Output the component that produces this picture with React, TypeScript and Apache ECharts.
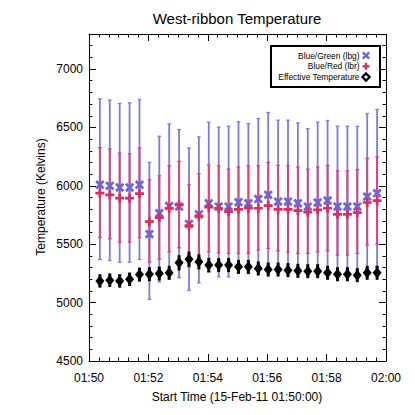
import React, { useEffect, useRef } from "react";
import * as echarts from "echarts";

// Observation times (start 15-Feb-11 01:50:00)
const times = [
  "01:50:22", "01:50:42", "01:51:02", "01:51:22", "01:51:42", "01:52:02", "01:52:22", "01:52:42",
  "01:53:02", "01:53:22", "01:53:42", "01:54:02", "01:54:22", "01:54:42", "01:55:02", "01:55:22",
  "01:55:42", "01:56:02", "01:56:22", "01:56:42", "01:57:02", "01:57:22", "01:57:42", "01:58:02",
  "01:58:22", "01:58:42", "01:59:02", "01:59:22", "01:59:42",
];

// Blue/Green (lbg) temperature and error-bar limits
const lbg = [6009, 6000, 5986, 5986, 6009, 5587, 5765, 5828, 5822, 5673, 5756, 5851, 5822, 5822, 5860,
  5851, 5888, 5923, 5865, 5865, 5851, 5822, 5857, 5874, 5822, 5822, 5822, 5908, 5937];
const lbgHigh = [6745, 6734, 6705, 6711, 6740, 6201, 6424, 6530, 6482, 6324, 6419, 6545, 6502, 6510, 6548,
  6533, 6576, 6628, 6562, 6562, 6539, 6490, 6545, 6559, 6510, 6510, 6510, 6619, 6654];
const lbgLow = [5369, 5361, 5346, 5346, 5369, 5028, 5177, 5209, 5214, 5105, 5169, 5263, 5220, 5220, 5255,
  5249, 5278, 5286, 5255, 5255, 5249, 5235, 5249, 5263, 5220, 5220, 5220, 5292, 5306];

// Blue/Red (lbr) temperature and error-bar limits
const lbr = [5937, 5923, 5894, 5894, 5934, 5693, 5728, 5808, 5837, 5659, 5742, 5817, 5808, 5779, 5799,
  5808, 5808, 5831, 5799, 5799, 5788, 5774, 5794, 5808, 5756, 5756, 5771, 5857, 5874];
const lbrHigh = [6327, 6315, 6281, 6275, 6324, 6052, 6086, 6172, 6209, 6009, 6103, 6178, 6172, 6143, 6161,
  6172, 6172, 6201, 6175, 6172, 6161, 6143, 6161, 6175, 6129, 6129, 6138, 6235, 6247];
const lbrLow = [5558, 5547, 5518, 5518, 5556, 5346, 5372, 5435, 5470, 5306, 5384, 5435, 5427, 5421, 5421,
  5421, 5450, 5464, 5444, 5435, 5421, 5421, 5435, 5444, 5407, 5407, 5421, 5493, 5501];

// Effective temperature and its error
const teff = [5186, 5192, 5186, 5200, 5240, 5243, 5249, 5255, 5341, 5372, 5349, 5321, 5321, 5321, 5306,
  5306, 5292, 5283, 5283, 5278, 5272, 5269, 5269, 5255, 5243, 5243, 5235, 5255, 5255];
const teffErr = [58, 58, 58, 58, 60, 60, 60, 60, 65, 65, 65, 62, 60, 60, 60,
  60, 60, 60, 60, 60, 60, 60, 60, 60, 60, 60, 60, 60, 60];

// Axis ticks
const yTicks = [4500, 5000, 5500, 6000, 6500, 7000];
const xTickLabels = ["01:50", "01:52", "01:54", "01:56", "01:58", "02:00"];

const TITLE = "West-ribbon Temperature";
const X_TITLE = "Start Time (15-Feb-11 01:50:00)";
const Y_TITLE = "Temperature (Kelvins)";
const LEGEND_NAMES = ["Blue/Green (lbg)", "Blue/Red (lbr)", "Effective Temperature"];

const FONT = "'Liberation Sans', Arial, Helvetica, sans-serif";
const BLUE = "#6a66d8";
const BLUE_BAR = "#7c7ce0";
const RED = "#d52f66";
const RED_BAR = "#d3477a";

const toSec = (t: string) => {
  const [h, m, s] = t.split(":").map(Number);
  return (h * 3600 + m * 60 + s) - (1 * 3600 + 50 * 60);
};
const xs = times.map(toSec);

const PLUS = "path://M3.5,0 H6.5 V3.5 H10 V6.5 H6.5 V10 H3.5 V6.5 H0 V3.5 H3.5 Z";
const XMARK = "path://M3.7,0 H6.3 V3.7 H10 V6.3 H6.3 V10 H3.7 V6.3 H0 V3.7 H3.7 Z";

function errBars(color: string, width: number, cap: number) {
  return (params: any, api: any) => {
    const x = api.value(0);
    const lo = api.coord([x, api.value(1)]);
    const hi = api.coord([x, api.value(2)]);
    const children: any[] = [
      { type: "line", shape: { x1: lo[0], y1: lo[1], x2: hi[0], y2: hi[1] }, style: { stroke: color, lineWidth: width } },
    ];
    if (cap > 0) {
      children.push(
        { type: "line", shape: { x1: lo[0] - cap, y1: lo[1], x2: lo[0] + cap, y2: lo[1] }, style: { stroke: color, lineWidth: 1.3 } },
        { type: "line", shape: { x1: hi[0] - cap, y1: hi[1], x2: hi[0] + cap, y2: hi[1] }, style: { stroke: color, lineWidth: 1.3 } },
      );
    }
    return { type: "group", children };
  };
}

const fmtX = (v: number) => {
  const idx = Math.round(v / 120);
  return xTickLabels[idx] ?? "";
};

export default function App() {
  const ref = useRef<HTMLDivElement>(null);
  useEffect(() => {
    if (!ref.current) return;
    const chart = echarts.init(ref.current, undefined, { renderer: "svg" });
    const axisLine = { onZero: false, lineStyle: { color: "#000", width: 1 } };
    const tick = { inside: true, length: 7, lineStyle: { color: "#000", width: 1 } };
    const lbl = { color: "#000", fontSize: 12, fontFamily: FONT };
    const legX = 366;
    const rows = [55.5, 66.3, 77];
    const option: any = {
      animation: false,
      backgroundColor: "#fff",
      grid: { left: 89, right: 29, top: 34, bottom: 54, containLabel: false },
      xAxis: [
        {
          type: "value", min: 0, max: 600, interval: 120, position: "bottom",
          axisLine, axisTick: tick, minorTick: { show: true, splitNumber: 6, length: 3.5, lineStyle: { color: "#000" } },
          axisLabel: { ...lbl, margin: 11, formatter: fmtX }, splitLine: { show: false },
        },
        {
          type: "value", min: 0, max: 600, interval: 120, position: "top",
          axisLine, axisTick: tick, minorTick: { show: true, splitNumber: 6, length: 3.5, lineStyle: { color: "#000" } },
          axisLabel: { show: false }, splitLine: { show: false },
        },
      ],
      yAxis: [
        {
          type: "value", min: yTicks[0], max: 7300, interval: 500, position: "left",
          axisLine, axisTick: tick, minorTick: { show: true, splitNumber: 5, length: 3.5, lineStyle: { color: "#000" } },
          axisLabel: { ...lbl, margin: 6, showMaxLabel: false, formatter: (v: number) => (yTicks.includes(v) ? String(v) : "") },
          splitLine: { show: false },
        },
        {
          type: "value", min: yTicks[0], max: 7300, interval: 500, position: "right",
          axisLine, axisTick: tick, minorTick: { show: true, splitNumber: 5, length: 3.5, lineStyle: { color: "#000" } },
          axisLabel: { show: false }, splitLine: { show: false },
        },
      ],
      series: [
        {
          type: "custom", name: "lbgErr", renderItem: errBars(BLUE_BAR, 1.8, 1.8),
          data: xs.map((x, i) => [x, lbgLow[i], lbgHigh[i]]), encode: { x: 0, y: [1, 2] }, silent: true,
        },
        {
          type: "custom", name: "lbrErr", renderItem: errBars(RED_BAR, 2, 1.8),
          data: xs.map((x, i) => [x, lbrLow[i], lbrHigh[i]]), encode: { x: 0, y: [1, 2] }, silent: true,
        },
        {
          type: "scatter", name: LEGEND_NAMES[0], symbol: XMARK, symbolSize: 10.5, symbolRotate: 45,
          itemStyle: { color: BLUE, opacity: 1 }, data: xs.map((x, i) => [x, lbg[i]]), silent: true,
        },
        {
          type: "scatter", name: LEGEND_NAMES[1], symbol: PLUS, symbolSize: 9,
          itemStyle: { color: RED, opacity: 1 }, data: xs.map((x, i) => [x, lbr[i]]), silent: true,
        },
        {
          type: "custom", name: "teffErr", renderItem: errBars("#000", 3, 0),
          data: xs.map((x, i) => [x, teff[i] - teffErr[i], teff[i] + teffErr[i]]), encode: { x: 0, y: [1, 2] }, silent: true,
        },
        {
          type: "scatter", name: LEGEND_NAMES[2], symbol: "diamond", symbolSize: [9, 11],
          itemStyle: { color: "#000", opacity: 1 }, data: xs.map((x, i) => [x, teff[i]]), silent: true,
        },
      ],
      graphic: [
        {
          type: "text", x: 237, y: 18,
          style: { text: TITLE, fill: "#000", font: `15px ${FONT}`, align: "center", verticalAlign: "middle", textAlign: "center", textVerticalAlign: "middle" },
        },
        {
          type: "text", x: 237, y: 397,
          style: { text: X_TITLE, fill: "#000", font: `12px ${FONT}`, align: "center", verticalAlign: "middle", textAlign: "center", textVerticalAlign: "middle" },
        },
        {
          type: "text", x: 41, y: 197, rotation: Math.PI / 2,
          style: { text: Y_TITLE, fill: "#000", font: `12px ${FONT}`, align: "center", verticalAlign: "middle", textAlign: "center", textVerticalAlign: "middle" },
        },
        {
          type: "rect", shape: { x: 271, y: 46, width: 109, height: 41 },
          style: { fill: "#fff", stroke: "#000", lineWidth: 2 }, z: 10,
        },
        ...LEGEND_NAMES.map((n, i) => ({
          type: "text", x: 359.5, y: rows[i], z: 11,
          style: { text: n, fill: "#000", font: `8.4px ${FONT}`, align: "right", verticalAlign: "middle", textAlign: "right", textVerticalAlign: "middle" },
        })),
        // legend symbols
        { type: "line", z: 11, shape: { x1: legX - 3.2, y1: rows[0] - 3.2, x2: legX + 3.2, y2: rows[0] + 3.2 }, style: { stroke: BLUE, lineWidth: 2.4 } },
        { type: "line", z: 11, shape: { x1: legX - 3.2, y1: rows[0] + 3.2, x2: legX + 3.2, y2: rows[0] - 3.2 }, style: { stroke: BLUE, lineWidth: 2.4 } },
        { type: "line", z: 11, shape: { x1: legX - 3.5, y1: rows[1], x2: legX + 3.5, y2: rows[1] }, style: { stroke: RED, lineWidth: 2.4 } },
        { type: "line", z: 11, shape: { x1: legX, y1: rows[1] - 3.5, x2: legX, y2: rows[1] + 3.5 }, style: { stroke: RED, lineWidth: 2.4 } },
        {
          type: "polygon", z: 11,
          shape: { points: [[legX, rows[2] - 3.6], [legX + 3.6, rows[2]], [legX, rows[2] + 3.6], [legX - 3.6, rows[2]]] },
          style: { fill: "#fff", stroke: "#000", lineWidth: 2.2 },
        },
      ],
    };
    chart.setOption(option);
    return () => chart.dispose();
  }, []);
  return <div ref={ref} style={{ position: "fixed", left: 0, top: 0, width: 415, height: 415 }} />;
}
